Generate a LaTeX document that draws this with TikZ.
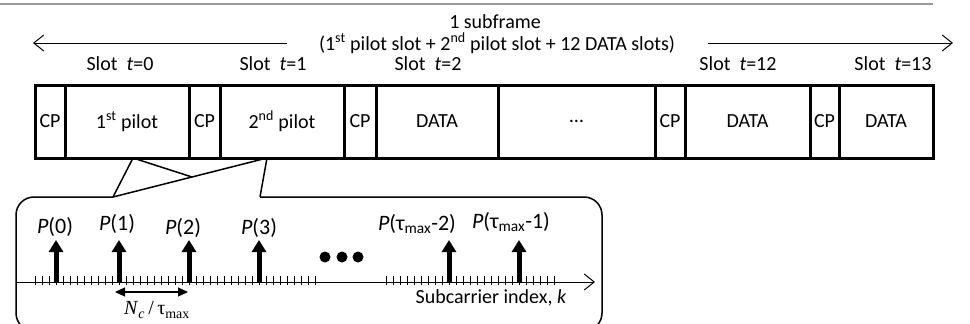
\documentclass[tikz,border=0pt]{standalone}
\usepackage{fontspec}
\setmainfont{Carlito}
\newfontfamily\timesfont{Liberation Serif}
\usetikzlibrary{arrows.meta,calc}
\definecolor{rulegray}{gray}{0.6}

\begin{document}
\begin{tikzpicture}[
    x=1pt, y=-1pt,
    font=\fontsize{20}{24}\selectfont,
    %% Frame row:  top y = 85, bottom y = 158 (height 73), thick borders
    %% Zoom box:   x = 16 .. 602, top y = 197, axis at y = 282
    cell/.style={draw, line width=3pt, outer sep=0pt, inner sep=0pt,
                 minimum height=73pt},
    cpcell/.style={cell, minimum width=30pt},
    slotlbl/.style={inner sep=0pt},
    plbl/.style={inner sep=0pt, font=\fontsize{22}{26}\selectfont},
    span/.style={line width=1pt, -{Straight Barb[length=10pt,width=16pt]}},
    callout/.style={line width=1.5pt},
    tick/.style={line width=1pt},
    pulse/.style={line width=5pt, -{Triangle[length=12pt,width=14pt]}},
    spacing/.style={line width=1.2pt,
                    {Triangle[length=10pt,width=9pt]}-{Triangle[length=10pt,width=9pt]}},
]
\useasboundingbox (0,0) rectangle (970,324);
\clip (0,0) rectangle (970,324);

%% ── Top rule ─────────────────────────────────────────────────────────────
\draw[rulegray, line width=2pt] (0,4) -- (933,4);

%% ── Subframe span ────────────────────────────────────────────────────────
\node[inner sep=0pt] (sf1) at (495,22) {1 subframe};
\node[inner sep=0pt] (sf2) at (497,43)
    {(1\textsuperscript{st} pilot slot + 2\textsuperscript{nd} pilot slot + 12 DATA slots)};
\coordinate (spanL)  at (33,43);
\coordinate (spanLs) at (287,43);
\coordinate (spanRs) at (708,43);
\coordinate (spanR)  at (953,43);
\draw[span] (spanLs) -- (spanL);
\draw[span] (spanRs) -- (spanR);

%% ── Slot labels ──────────────────────────────────────────────────────────
\node[slotlbl] at (120,64) {Slot \ \textit{t}=0};
\node[slotlbl] at (273,64) {Slot \ \textit{t}=1};
\node[slotlbl] at (428,64) {Slot \ \textit{t}=2};
\node[slotlbl] at (738,64) {Slot \ \textit{t}=12};
\node[slotlbl] at (893,64) {Slot \ \textit{t}=13};

%% ── Frame row (y = 121.5) ────────────────────────────────────────────────
\node[cpcell]                       (cp0)    at (50,121.5)  {CP};
\node[cell, minimum width=124pt]    (pilot1) at (127,121.5) {1\textsuperscript{st} pilot};
\node[cpcell, minimum width=31pt]   (cp1)    at (204.5,121.5) {CP};
\node[cell, minimum width=124pt]    (pilot2) at (282,121.5) {2\textsuperscript{nd} pilot};
\node[cpcell, minimum width=32pt]   (cp2)    at (360,121.5) {CP};
\node[cell, minimum width=122pt]    (data2)  at (437,121.5) {DATA};
\node[cell, minimum width=157pt]    (skip)   at (576.5,121.5) {…};
\node[cpcell]                       (cp12)   at (670,121.5) {CP};
\node[cell, minimum width=125pt]    (data12) at (747.5,121.5) {DATA};
\node[cpcell, minimum width=29pt]   (cp13)   at (824.5,121.5) {CP};
\node[cell, minimum width=94pt]     (data13) at (886,121.5) {DATA};

%% ── Zoom callout ─────────────────────────────────────────────────────────
\coordinate (p1foot) at (133,158);
\coordinate (p2foot) at (267,158);
\coordinate (zoomL)  at (113,197);
\coordinate (zoomR)  at (260,197);
\draw[callout] (zoomL) -- (p1foot) -- ($(zoomL)!0.513!(p2foot)$);
\draw[callout] (zoomL) -- (p2foot) -- (zoomR);
\draw[callout, rounded corners=18pt]
    (zoomL) -- (16,197) -- (16,331) -- (602,331) -- (602,197) -- (zoomR);

%% ── Subcarrier axis ──────────────────────────────────────────────────────
\coordinate (axisO) at (16,282);
\coordinate (axisE) at (595,282);
\draw[span] (axisO) -- (axisE);
\foreach \x in {35,42,...,315} \draw[tick] (\x,276) -- (\x,285);
\foreach \x in {386,393,...,554} \draw[tick] (\x,276) -- (\x,285);

%% ── Pilot pulses ─────────────────────────────────────────────────────────
\foreach \x/\n in {56/0,119/1,189/2,259/3,449/4,519/5} {
    \coordinate (k\n) at (\x,282);
    \draw[pulse] (k\n) -- ++(0,-42);
}
\node[plbl] (lbl0) at (55,227)  {\textit{P}(0)};
\node[plbl] (lbl1) at (117,224) {\textit{P}(1)};
\node[plbl] (lbl2) at (183,228) {\textit{P}(2)};
\node[plbl] (lbl3) at (259,228) {\textit{P}(3)};
\node[plbl] (lbl4) at (417,224) {\textit{P}(τ\textsubscript{max}-2)};
\node[plbl] (lbl5) at (511,222) {\textit{P}(τ\textsubscript{max}-1)};

\foreach \x in {325,342,358} \fill (\x,257) circle (5.5pt);

%% ── Pilot spacing ────────────────────────────────────────────────────────
\coordinate (nc0) at (115,292);
\coordinate (nc1) at (188,292);
\draw[spacing] (nc0) -- (nc1);
\node (ncl) at (157,310)
    {\timesfont\textit{N}\textsubscript{\textit{c}}\,/\,τ\textsubscript{max}};

\node (klbl) at (491,298) {Subcarrier index, \textit{k}};

\end{tikzpicture}
\end{document}
